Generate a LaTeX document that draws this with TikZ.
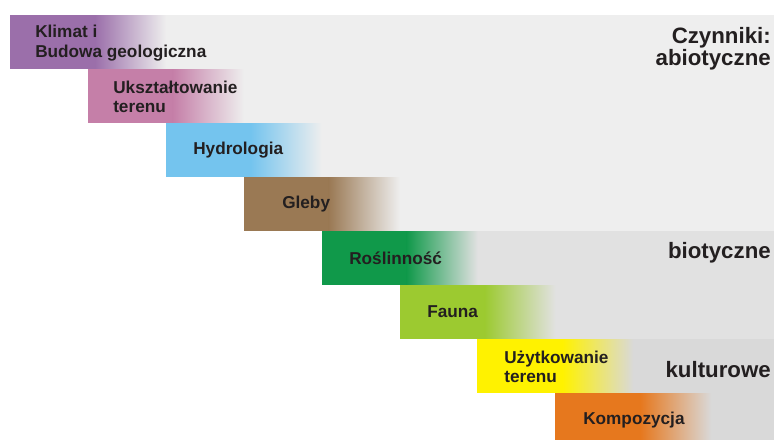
\documentclass[tikz,border=0pt]{standalone}
\usepackage{fontspec}
\setmainfont{Liberation Sans}
\usepackage{tikz}
\usetikzlibrary{positioning}
\definecolor{ink}{HTML}{231F20}
\definecolor{klimat}{HTML}{9B6FAA}
\definecolor{uksz}{HTML}{C57FA8}
\definecolor{hydro}{HTML}{74C4EE}
\definecolor{gleby}{HTML}{9A7954}
\definecolor{roslin}{HTML}{10994A}
\definecolor{fauna}{HTML}{9CCA30}
\definecolor{uzytk}{HTML}{FFF200}
\definecolor{kompoz}{HTML}{E6781E}
\definecolor{abio}{HTML}{EEEEEE}
\definecolor{bio}{HTML}{E1E1E1}
\definecolor{kult}{HTML}{D9D9D9}

\begin{document}
\begin{tikzpicture}[x=0.75pt,y=-0.75pt]
  \tikzstyle{factor} = [anchor=west,align=left,inner sep=0pt,text=ink,font=\bfseries\fontsize{12.9}{14.6}\selectfont]
  \tikzstyle{group} = [anchor=base east,align=right,inner sep=0pt,text=ink,font=\bfseries\fontsize{16.7}{16.5}\selectfont]
  \useasboundingbox (0,0) rectangle (774,439);
  \clip (0,0) rectangle (774,439);
  %
  % Grey bands and colour steps.
  \foreach \i/\col/\band in {0/klimat/abio,1/uksz/abio,2/hydro/abio,3/gleby/abio,
                             4/roslin/bio,5/fauna/bio,6/uzytk/kult,7/kompoz/kult} {
    \fill[\band] ({10+77.9*\i},{15+54*\i}) rectangle (774,{69+54*\i});
    \fill[\col] ({10+77.9*\i},{15+54*\i}) rectangle ++(86,54);
    \shade[left color=\col,right color=\band] ({95+77.9*\i},{15+54*\i}) rectangle ++(71,54);
  }
  %
  % Factors.
  \node[factor] (klimat) at (35,43) {Klimat i\\Budowa geologiczna};
  \node[factor] (uksz)   at (113,97) {Ukształtowanie\\terenu};
  \node[factor] (hydro)  at (193,150) {Hydrologia};
  \node[factor] (gleby)  at (282,204) {Gleby};
  \node[factor] (roslin) at (349,258) {Roślinność};
  \node[factor] (fauna)  at (427,312) {Fauna};
  \node[factor] (uzytk)  at (504,367) {Użytkowanie\\terenu};
  \node[factor] (kompoz) at (583,420) {Kompozycja};
  %
  % Groups.
  \node[group] (abiotic)  at (771,65) {Czynniki:\\abiotyczne};
  \node[group] (biotic)   at (771,258) {biotyczne};
  \node[group] (cultural) at (771,377) {kulturowe};
\end{tikzpicture}
\end{document}
